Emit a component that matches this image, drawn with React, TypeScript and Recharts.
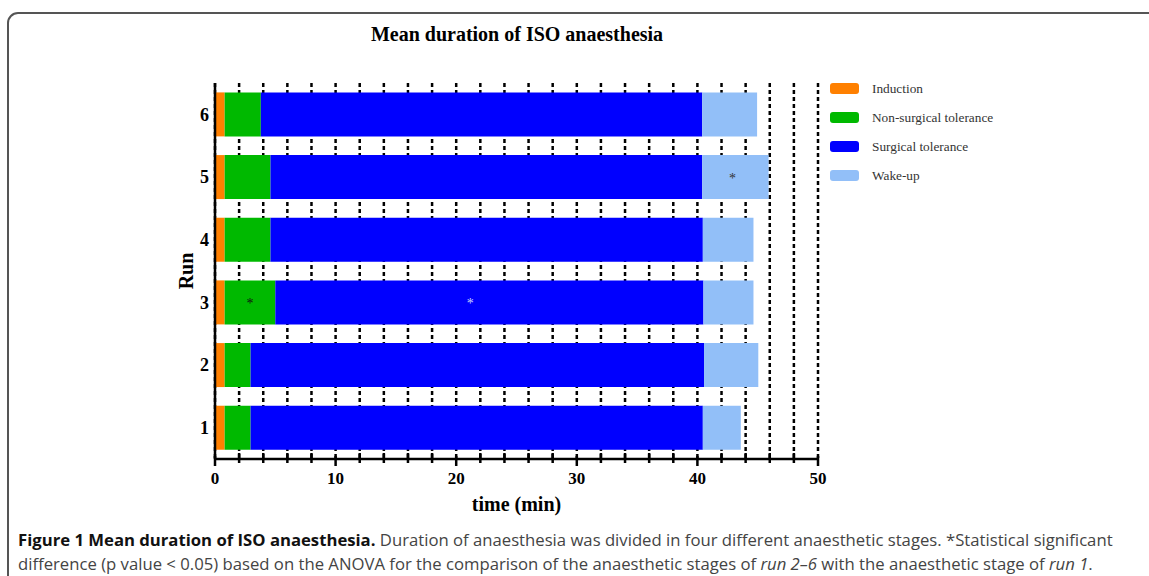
import React from "react";
import {
  BarChart,
  Bar,
  XAxis,
  YAxis,
  CartesianGrid,
  Legend,
  LabelList,
  Label,
} from "recharts";

// Mean duration (min) of each anaesthetic stage per run
const runs = ["1", "2", "3", "4", "5", "6"];
const induction = [0.8, 0.8, 0.8, 0.8, 0.8, 0.8];
const nonSurgical = [2.15, 2.15, 4.2, 3.8, 3.8, 3.0];
const surgical = [37.5, 37.6, 35.5, 35.85, 35.8, 36.6];
const wakeUp = [3.15, 4.5, 4.15, 4.2, 5.5, 4.55];

// significance markers (*) vs run 1
const sigNonSurgical = [false, false, true, false, false, false];
const sigSurgical = [false, false, true, false, false, false];
const sigWakeUp = [false, false, false, false, true, false];

const timeTicks = [0, 2, 4, 6, 8, 10, 12, 14, 16, 18, 20, 22, 24, 26, 28, 30, 32, 34, 36, 38, 40, 42, 44, 46, 48, 50];

const data = runs.map((run, i) => ({
  run,
  induction: induction[i],
  nonSurgical: nonSurgical[i],
  surgical: surgical[i],
  wakeUp: wakeUp[i],
  sigNonSurgical: sigNonSurgical[i] ? "*" : "",
  sigSurgical: sigSurgical[i] ? "*" : "",
  sigWakeUp: sigWakeUp[i] ? "*" : "",
}));

const SERIF = '"Liberation Serif", "Times New Roman", serif';

const COLORS = {
  induction: "#FF8000",
  nonSurgical: "#00B900",
  surgical: "#0000FF",
  wakeUp: "#92BFF8",
};

const TimeTick = (props: any) => {
  const { x, y, payload } = props;
  const major = payload.value % 10 === 0;
  return (
    <g>
      <line x1={x} x2={x} y1={major ? y - 3 : y - 6} y2={major ? y + 7 : y + 4} stroke="#000" strokeWidth={2.5} />
      {major && (
        <text x={x} y={y + 25} textAnchor="middle" fontFamily={SERIF} fontWeight="bold" fontSize={17} fill="#000">
          {payload.value}
        </text>
      )}
    </g>
  );
};

const star = (color: string, dx = 0) => (props: any) => {
  const { x, y, width, height, value } = props;
  if (!value) return null;
  return (
    <text
      x={x + width / 2 + dx}
      y={y + height / 2 + 6}
      textAnchor="middle"
      fontFamily={SERIF}
      fontSize={14}
      fill={color}
    >
      {value}
    </text>
  );
};

const renderLegend = (props: any) => {
  const { payload } = props;
  return (
    <div>
      {payload.map((entry: any, index: number) => (
        <div key={`item-${index}`} style={{ display: "flex", alignItems: "center", height: 29 }}>
          <span
            style={{
              display: "inline-block",
              width: 29,
              height: 11,
              borderRadius: 3,
              background: entry.color,
              marginRight: 13,
            }}
          />
          <span style={{ fontFamily: SERIF, fontSize: 13.3, color: "#333" }}>{entry.value}</span>
        </div>
      ))}
    </div>
  );
};

const RunLabel = (props: any) => {
  const { viewBox } = props;
  const cx = viewBox.x + 36;
  const cy = viewBox.y + viewBox.height / 2;
  return (
    <text
      x={cx}
      y={cy}
      transform={`rotate(-90, ${cx}, ${cy})`}
      textAnchor="middle"
      dominantBaseline="central"
      fontFamily={SERIF}
      fontWeight="bold"
      fontSize={20}
      fill="#000"
    >
      Run
    </text>
  );
};

export default function App() {
  return (
    <div style={{ position: "absolute", left: 0, top: 0, width: 1149, height: 576, overflow: "hidden", background: "#fff" }}>
      <div
        style={{
          position: "absolute",
          left: 7,
          top: 12,
          width: 1170,
          height: 620,
          border: "2px solid #555",
          borderRadius: 11,
          boxSizing: "border-box",
        }}
      />
      <div
        style={{
          position: "absolute",
          left: 317,
          width: 400,
          top: 23,
          textAlign: "center",
          fontFamily: SERIF,
          fontWeight: "bold",
          fontSize: 20,
          color: "#000",
        }}
      >
        Mean duration of ISO anaesthesia
      </div>
      <div style={{ position: "absolute", left: 0, top: 0 }}>
        <BarChart
          width={1149}
          height={576}
          data={data}
          layout="vertical"
          margin={{ top: 83, right: 331, bottom: 65, left: 150 }}
          barCategoryGap="15%"
        >
          <CartesianGrid
            horizontal={false}
            vertical={true}
            stroke="#000"
            strokeWidth={2.5}
            strokeDasharray="4 3"
          />
          <XAxis
            type="number"
            domain={[0, 50]}
            ticks={timeTicks}
            interval={0}
            tick={<TimeTick />}
            tickLine={false}
            tickSize={0}
            tickMargin={0}
            axisLine={{ stroke: "#000", strokeWidth: 2.5 }}
            height={52}
          >
            <Label
              value="time (min)"
              position="insideBottom"
              offset={0}
              style={{ fontFamily: SERIF, fontWeight: "bold", fontSize: 20, fill: "#000" }}
            />
          </XAxis>
          <YAxis
            type="category"
            dataKey="run"
            reversed
            width={65}
            tickLine={false}
            tickSize={0}
            tickMargin={6}
            axisLine={{ stroke: "#000", strokeWidth: 2.5 }}
            tick={{ fill: "#000", fontSize: 18, fontWeight: "bold", fontFamily: SERIF }}
          >
            <Label content={<RunLabel />} />
          </YAxis>
          <Legend
            layout="vertical"
            align="center"
            verticalAlign="middle"
            content={renderLegend}
            wrapperStyle={{ left: 830, top: 74, width: 220 }}
          />
          <Bar dataKey="induction" name="Induction" stackId="a" fill={COLORS.induction} isAnimationActive={false} />
          <Bar dataKey="nonSurgical" name="Non-surgical tolerance" stackId="a" fill={COLORS.nonSurgical} isAnimationActive={false}>
            <LabelList dataKey="sigNonSurgical" content={star("#111")} />
          </Bar>
          <Bar dataKey="surgical" name="Surgical tolerance" stackId="a" fill={COLORS.surgical} isAnimationActive={false}>
            <LabelList dataKey="sigSurgical" content={star("#C8D0FF", -19)} />
          </Bar>
          <Bar dataKey="wakeUp" name="Wake-up" stackId="a" fill={COLORS.wakeUp} isAnimationActive={false}>
            <LabelList dataKey="sigWakeUp" content={star("#333", -3)} />
          </Bar>
        </BarChart>
      </div>
      <div
        style={{
          position: "absolute",
          left: 18,
          top: 528,
          fontFamily: '"Liberation Sans Narrow", "Open Sans", sans-serif',
          fontSize: 16.7,
          lineHeight: "24px",
          color: "#444",
          whiteSpace: "nowrap",
        }}
      >
        <span style={{ fontWeight: "bold", color: "#111" }}>Figure 1 Mean duration of ISO anaesthesia.</span> Duration of
        anaesthesia was divided in four different anaesthetic stages. *Statistical significant
        <br />
        difference (p value &lt; 0.05) based on the ANOVA for the comparison of the anaesthetic stages of{" "}
        <i>run 2–6</i> with the anaesthetic stage of <i>run 1</i>.
      </div>
    </div>
  );
}
